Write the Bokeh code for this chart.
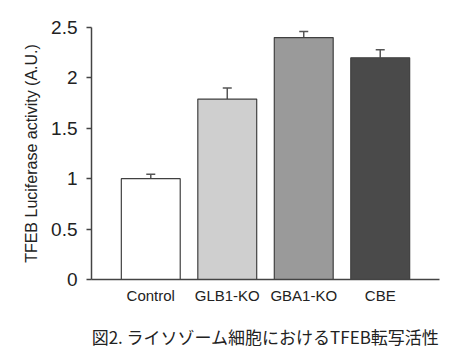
from bokeh.plotting import figure
from bokeh.models import ColumnDataSource, FactorRange, Range1d, Whisker, TeeHead
from bokeh.embed import file_html
from bokeh.resources import INLINE

# --- data ---
categories = ["Control", "GLB1-KO", "GBA1-KO", "CBE"]
values = [1.0, 1.79, 2.40, 2.20]
errors = [0.045, 0.11, 0.06, 0.08]
colors = ["#ffffff", "#cfcfcf", "#9a9a9a", "#4a4a4a"]
y_ticks = [0, 0.5, 1, 1.5, 2, 2.5]
y_tick_labels = ["0", "0.5", "1", "1.5", "2", "2.5"]
y_label = "TFEB Luciferase activity (A.U.)"
caption = "図2. ライソゾーム細胞におけるTFEB転写活性"

upper = [v + e for v, e in zip(values, errors)]
src = ColumnDataSource(dict(x=categories, top=values, upper=upper, color=colors))

p = figure(
    x_range=FactorRange(factors=categories, range_padding=0.1375),
    y_range=Range1d(0, 2.5),
    width=446, height=351,
    min_border_left=91, min_border_right=7, min_border_top=27, min_border_bottom=67,
    output_backend="svg", toolbar_location=None,
)

p.vbar(x="x", top="top", width=0.77, fill_color="color",
       line_color="#404040", line_width=1.2, source=src)

w = Whisker(base="x", lower="top", upper="upper", source=src,
            line_color="#555555", line_width=1.5,
            upper_head=TeeHead(size=9, line_color="#555555", line_width=1.5),
            lower_head=None)
p.add_layout(w)

p.xgrid.grid_line_color = None
p.ygrid.grid_line_color = None
p.outline_line_color = None

font = "Liberation Sans"
ya = p.yaxis[0]
ya.ticker = y_ticks
ya.major_label_overrides = {t: l for t, l in zip(y_ticks, y_tick_labels)}
ya.major_label_text_font = font
ya.major_label_text_font_size = "19px"
ya.major_label_text_color = "#222222"
ya.major_tick_out = 5
ya.major_tick_in = 0
ya.minor_tick_out = 0
ya.minor_tick_in = 0
ya.major_label_standoff = 9
ya.axis_line_color = "#444444"
ya.axis_line_width = 1.5
ya.major_tick_line_color = "#444444"
ya.major_tick_line_width = 1.5
ya.axis_label = y_label
ya.axis_label_text_font = font
ya.axis_label_text_font_style = "normal"
ya.axis_label_text_font_size = "16px"
ya.axis_label_text_color = "#222222"
ya.axis_label_standoff = 8

xa = p.xaxis[0]
xa.major_label_text_font = font
xa.major_label_text_font_size = "15px"
xa.major_label_text_color = "#222222"
xa.major_tick_out = 0
xa.major_tick_in = 0
xa.major_label_standoff = 7
xa.axis_line_color = "#444444"
xa.axis_line_width = 1.5
xa.axis_label = caption
xa.axis_label_text_font = "Noto Sans CJK JP"
xa.axis_label_text_font_style = "normal"
xa.axis_label_text_font_size = "17px"
xa.axis_label_text_color = "#222222"
xa.axis_label_standoff = 17

open("out.html", "w").write(file_html(p, INLINE))
